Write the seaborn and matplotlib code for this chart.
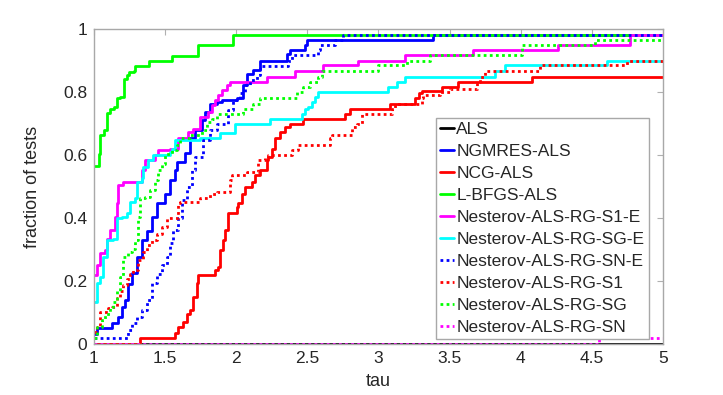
import numpy as np
import pandas as pd
import matplotlib
matplotlib.use("Agg")
import matplotlib.pyplot as plt
import seaborn as sns

# performance profile data (tau, fraction of tests)
als_tau = [1.0]
als_frac = [0.0]

ngmres_tau = [1.0, 1.021, 1.13, 1.169, 1.195, 1.218, 1.239, 1.265, 1.3, 1.335, 1.37, 1.405, 1.44,
              1.499, 1.534, 1.569, 1.581, 1.64, 1.675, 1.71, 1.757, 1.78, 1.815, 1.862, 1.897, 2.003,
              2.05, 2.073, 2.12, 2.167, 2.354, 2.377, 2.486, 2.5, 3.385]
ngmres_frac = [0.033, 0.05, 0.067, 0.087, 0.118, 0.14, 0.19, 0.225, 0.277, 0.33, 0.36, 0.404, 0.447,
               0.478, 0.52, 0.552, 0.579, 0.606, 0.654, 0.68, 0.711, 0.737, 0.763, 0.77, 0.775, 0.78,
               0.822, 0.859, 0.87, 0.90, 0.92, 0.933, 0.949, 0.965, 0.981]

ncg_tau = [1.0, 1.32, 1.569, 1.593, 1.628, 1.652, 1.675, 1.698, 1.722, 1.733, 1.851, 1.874, 1.886,
           1.909, 1.921, 1.944, 2.003, 2.015, 2.04, 2.062, 2.109, 2.132, 2.167, 2.214, 2.225, 2.249,
           2.272, 2.307, 2.343, 2.378, 2.471, 2.764, 2.799, 3.08, 3.26, 3.284, 3.307, 3.444, 3.561, 4.077]
ncg_frac = [0.0, 0.018, 0.034, 0.055, 0.071, 0.097, 0.108, 0.15, 0.193, 0.219, 0.235, 0.245, 0.298,
            0.33, 0.362, 0.415, 0.436, 0.447, 0.478, 0.50, 0.516, 0.537, 0.552, 0.584, 0.595, 0.621,
            0.653, 0.674, 0.69, 0.70, 0.716, 0.732, 0.748, 0.764, 0.78, 0.796, 0.804, 0.817, 0.833, 0.849]

lbfgs_tau = [1.0, 1.033, 1.044, 1.068, 1.091, 1.115, 1.138, 1.162, 1.185, 1.209, 1.232, 1.244, 1.279,
             1.29, 1.385, 1.548, 1.733, 1.979]
lbfgs_frac = [0.567, 0.605, 0.663, 0.679, 0.733, 0.748, 0.753, 0.78, 0.785, 0.843, 0.854, 0.864, 0.868,
              0.883, 0.90, 0.914, 0.949, 0.983]

s1e_tau = [1.0, 1.019, 1.042, 1.077, 1.089, 1.113, 1.148, 1.16, 1.171, 1.207, 1.335, 1.358, 1.429,
           1.452, 1.534, 1.591, 1.662, 1.698, 1.745, 1.804, 1.827, 1.851, 1.874, 1.898, 1.933, 1.956,
           2.214, 2.413, 2.612, 2.858, 3.186, 3.667, 4.264, 4.768]
s1e_frac = [0.219, 0.25, 0.288, 0.298, 0.335, 0.362, 0.404, 0.447, 0.505, 0.516, 0.552, 0.584, 0.60,
            0.616, 0.621, 0.653, 0.674, 0.684, 0.722, 0.737, 0.759, 0.775, 0.79, 0.806, 0.822, 0.833,
            0.849, 0.868, 0.886, 0.90, 0.917, 0.933, 0.949, 0.981]

sge_tau = [1.0, 1.019, 1.042, 1.066, 1.089, 1.136, 1.16, 1.195, 1.23, 1.253, 1.288, 1.3, 1.335, 1.347,
           1.382, 1.417, 1.534, 1.546, 1.569, 1.745, 1.886, 1.991, 2.237, 2.46, 2.483, 2.506, 2.53,
           2.553, 2.577, 3.069, 3.128, 3.186, 3.82, 3.889, 4.604]
sge_frac = [0.134, 0.193, 0.214, 0.277, 0.33, 0.335, 0.399, 0.404, 0.415, 0.452, 0.463, 0.516, 0.527,
            0.563, 0.584, 0.60, 0.61, 0.621, 0.648, 0.653, 0.669, 0.70, 0.716, 0.732, 0.748, 0.753,
            0.77, 0.785, 0.801, 0.817, 0.833, 0.849, 0.868, 0.886, 0.90]

sne_tau = [1.0, 1.241, 1.264, 1.3, 1.335, 1.37, 1.405, 1.44, 1.476, 1.511, 1.534, 1.558, 1.593, 1.616,
           1.652, 1.687, 1.711, 1.769, 1.815, 1.862, 1.945, 1.98, 2.027, 2.062, 2.097, 2.143, 2.167,
           2.366, 2.389, 2.577, 2.59, 2.695, 2.754]
sne_frac = [0.018, 0.044, 0.066, 0.087, 0.108, 0.14, 0.193, 0.224, 0.25, 0.277, 0.32, 0.362, 0.399,
            0.457, 0.5, 0.552, 0.595, 0.648, 0.679, 0.70, 0.743, 0.775, 0.796, 0.822, 0.838, 0.854,
            0.884, 0.90, 0.917, 0.933, 0.949, 0.965, 0.981]

s1_tau = [1.0, 1.019, 1.042, 1.101, 1.124, 1.159, 1.183, 1.206, 1.23, 1.253, 1.276, 1.311, 1.347, 1.37,
          1.405, 1.44, 1.476, 1.511, 1.593, 1.605, 1.745, 1.815, 1.862, 1.956, 1.968, 2.073, 2.155,
          2.203, 2.225, 2.389, 2.436, 2.659, 2.671, 2.811, 2.846, 2.882, 3.092, 3.115, 3.303, 3.315,
          3.432, 3.503, 3.69, 3.713, 3.748, 4.136, 4.745]
s1_frac = [0.039, 0.055, 0.102, 0.113, 0.118, 0.145, 0.17, 0.187, 0.208, 0.224, 0.235, 0.267, 0.293,
           0.314, 0.33, 0.351, 0.372, 0.399, 0.447, 0.452, 0.463, 0.478, 0.484, 0.52, 0.537, 0.547,
           0.584, 0.59, 0.60, 0.616, 0.632, 0.653, 0.664, 0.69, 0.70, 0.732, 0.748, 0.764, 0.78, 0.79,
           0.801, 0.811, 0.833, 0.849, 0.868, 0.886, 0.90]

sg_tau = [1.0, 1.019, 1.054, 1.077, 1.113, 1.136, 1.16, 1.183, 1.206, 1.241, 1.265, 1.288, 1.311, 1.323,
          1.358, 1.394, 1.429, 1.452, 1.476, 1.499, 1.546, 1.581, 1.605, 1.675, 1.757, 1.792, 1.827,
          1.862, 2.05, 2.12, 2.167, 2.425, 2.472, 2.518, 2.577, 2.601, 3.0, 3.197, 3.362, 4.006, 4.52]
sg_frac = [0.018, 0.055, 0.076, 0.097, 0.118, 0.134, 0.17, 0.214, 0.277, 0.293, 0.303, 0.33, 0.404,
           0.463, 0.468, 0.489, 0.52, 0.552, 0.573, 0.605, 0.616, 0.632, 0.653, 0.664, 0.679, 0.706,
           0.716, 0.732, 0.748, 0.764, 0.783, 0.801, 0.817, 0.833, 0.849, 0.868, 0.886, 0.90, 0.917,
           0.949, 0.965]

sn_tau = [1.0, 4.55]
sn_frac = [0.0, 0.018]

labels = ['ALS', 'NGMRES-ALS', 'NCG-ALS', 'L-BFGS-ALS', 'Nesterov-ALS-RG-S1-E',
          'Nesterov-ALS-RG-SG-E', 'Nesterov-ALS-RG-SN-E', 'Nesterov-ALS-RG-S1',
          'Nesterov-ALS-RG-SG', 'Nesterov-ALS-RG-SN']
taus = [als_tau, ngmres_tau, ncg_tau, lbfgs_tau, s1e_tau, sge_tau, sne_tau, s1_tau, sg_tau, sn_tau]
fracs = [als_frac, ngmres_frac, ncg_frac, lbfgs_frac, s1e_frac, sge_frac, sne_frac, s1_frac, sg_frac, sn_frac]

colors = ['#000000', '#0000ff', '#ff0000', '#00ff00', '#ff00ff', '#00ffff',
          '#0000ff', '#ff0000', '#00ff00', '#ff00ff']
dotted = (0, (1, 1.2))
styles = ['-', '-', '-', '-', '-', '-', dotted, dotted, dotted, dotted]

sns.set_style('white')
plt.rcParams['font.family'] = ['Liberation Sans', 'DejaVu Sans']

fig = plt.figure(figsize=(7.23, 3.95), dpi=100)
ax = fig.add_axes([0.130, 0.129, 0.787, 0.797])

for lab, t, f, c, ls in zip(labels, taus, fracs, colors, styles):
    df = pd.DataFrame({'tau': list(t) + [5.0], 'frac': list(f) + [f[-1]]})
    sns.lineplot(data=df, x='tau', y='frac', ax=ax, color=c, linestyle=ls, linewidth=2,
                 drawstyle='steps-post', label=lab, sort=False)

ax.set_xlim(1, 5)
ax.set_ylim(0, 1)
ax.set_xticks(np.arange(1, 5.01, 0.5))
ax.set_xticklabels([f'{v:g}' for v in np.arange(1, 5.01, 0.5)])
ax.set_yticks(np.arange(0, 1.01, 0.2))
ax.set_yticklabels([f'{v:g}' for v in np.round(np.arange(0, 1.01, 0.2), 1)])
ax.tick_params(direction='in', top=True, right=True, length=4, color='#b0b0b0',
               labelsize=12.5, labelcolor='#262626', pad=5)
for sp in ax.spines.values():
    sp.set_color('#a8a8a8')
    sp.set_linewidth(1)

ax.set_xlabel('tau', fontsize=13, color='#262626', labelpad=5)
ax.set_ylabel('fraction of tests', fontsize=13, color='#262626', labelpad=16)

leg = ax.legend(loc='lower right', bbox_to_anchor=(0.975, 0.016), fontsize=12.5,
                frameon=True, fancybox=False, edgecolor='#a8a8a8', framealpha=1,
                handlelength=0.8, handletextpad=0.15, labelspacing=0.39, borderpad=0.25,
                borderaxespad=0)
leg.get_frame().set_linewidth(1)

plt.savefig('out.png', dpi=100)
